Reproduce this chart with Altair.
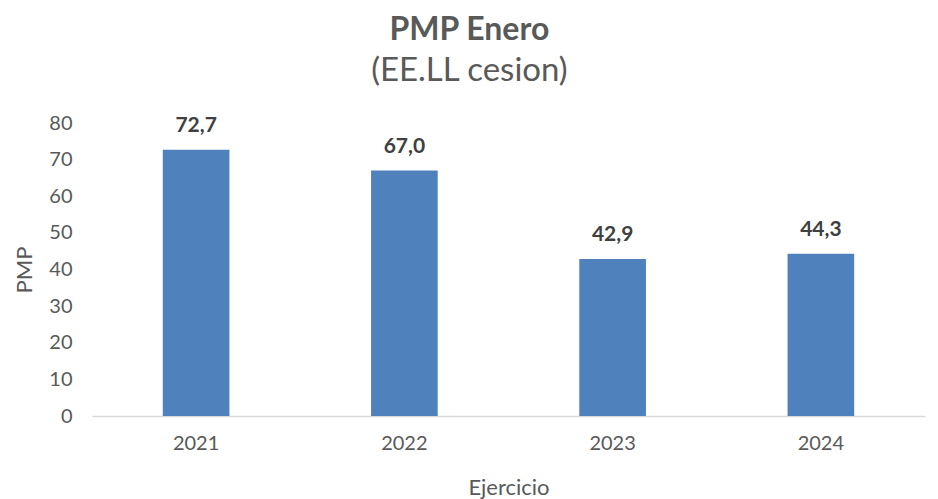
import altair as alt
import pandas as pd

years = ["2021", "2022", "2023", "2024"]
pmp = [72.7, 67.0, 42.9, 44.3]
labels = ["72,7", "67,0", "42,9", "44,3"]
y_ticks = [0, 10, 20, 30, 40, 50, 60, 70, 80]

df = pd.DataFrame({"Ejercicio": years, "PMP": pmp, "label": labels})

FONT = "Lato"
TXT = "#595959"

base = alt.Chart(df).encode(
    x=alt.X("Ejercicio:N", title="Ejercicio",
            scale=alt.Scale(paddingInner=0.68, paddingOuter=0.34),
            axis=alt.Axis(labelAngle=0, labelFontSize=20, labelColor=TXT, labelFont=FONT,
                          titleFontSize=22, titleColor=TXT, titleFont=FONT, titleFontWeight="normal",
                          ticks=False, labelPadding=17, titlePadding=24,
                          domainColor="#d9d9d9", domainWidth=1.5)),
    y=alt.Y("PMP:Q", title="PMP",
            scale=alt.Scale(domain=[0, 80]),
            axis=alt.Axis(values=y_ticks, tickCount=9, grid=False, domain=False,
                          ticks=False, labelFontSize=20, labelColor=TXT, labelFont=FONT,
                          labelOverlap=False, labelPadding=20, titleFontSize=22, titleColor=TXT,
                          titleFont=FONT, titleFontWeight="normal", titlePadding=12)),
)

bars = base.mark_bar(color="#4F81BD")

text = base.mark_text(baseline="bottom", dy=-14, fontSize=21, fontWeight="bold",
                      color="#404040", font=FONT).encode(text="label:N")

chart = (bars + text).properties(
    width=833, height=293,
    padding={"left": 5, "top": 6, "right": 5, "bottom": 2},
    title=alt.TitleParams(text="PMP Enero", subtitle="(EE.LL cesion)", anchor="middle",
                          frame="bounds", font=FONT, fontSize=32, fontWeight="bold", color=TXT,
                          subtitleFont=FONT, subtitleFontSize=33, subtitleColor=TXT,
                          subtitlePadding=8, offset=24)
).configure_view(stroke=None)

chart.save("out.html", embed_options={"renderer": "svg", "actions": False})
